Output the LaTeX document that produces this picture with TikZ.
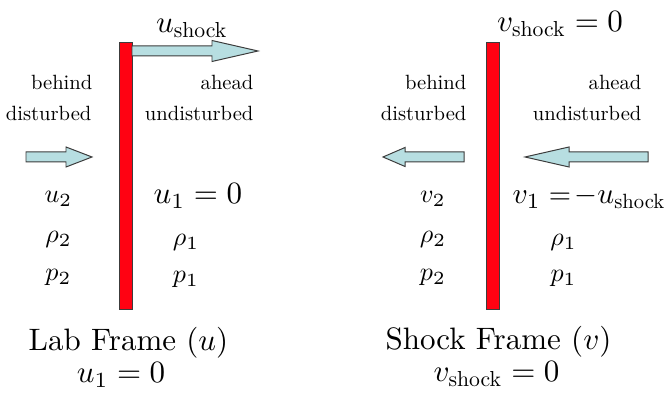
\documentclass[tikz,border=0pt]{standalone}
\usepackage{amsmath}
\usepackage{fontspec}
\setmainfont{lmroman10-regular.otf}[ItalicFont=lmroman10-italic.otf,BoldFont=lmroman10-bold.otf]
\DeclareFontFamily{OML}{cmmx}{\skewchar\font127 }
\DeclareFontShape{OML}{cmmx}{m}{it}{<->cmmi10}{}
\DeclareFontFamily{OMS}{cmsyx}{\skewchar\font48 }
\DeclareFontShape{OMS}{cmsyx}{m}{n}{<->cmsy10}{}
\DeclareFontFamily{OT1}{cmrx}{\hyphenchar\font45 }
\DeclareFontShape{OT1}{cmrx}{m}{n}{<->cmr10}{}
\DeclareSymbolFont{operators}{OT1}{cmrx}{m}{n}
\DeclareSymbolFont{letters}{OML}{cmmx}{m}{it}
\DeclareSymbolFont{symbols}{OMS}{cmsyx}{m}{n}
\definecolor{shockred}{RGB}{255,2,18}
\definecolor{flowfill}{RGB}{183,222,225}
\definecolor{edgegray}{RGB}{60,60,60}
\newcommand\flowarrow[6]{%
  \draw[flowarrow] (#1,{#4-#5}) -- (#2,{#4-#5}) -- (#2,{#4-#6}) -- (#3,#4)
    -- (#2,{#4+#6}) -- (#2,{#4+#5}) -- (#1,{#4+#5}) -- cycle;}
\tikzset{
  shockbar/.style={draw=edgegray, line width=0.32pt, fill=shockred, inner sep=0pt,
    minimum width={13*0.3226pt}, minimum height={266*0.3226pt}},
  flowarrow/.style={draw=edgegray, line width=0.32pt, fill=flowfill, line join=miter},
  mainlbl/.style={inner sep=0pt, font=\fontsize{10}{12}\selectfont},
  widelbl/.style={inner sep=0pt, font=\fontsize{9.5}{12}\selectfont},
  varlbl/.style={inner sep=0pt, font=\fontsize{8.4}{10}\selectfont},
  smalllbl/.style={inner sep=0pt, font=\fontsize{6.65}{8}\selectfont},
}
\begin{document}
\begin{tikzpicture}[x=0.3226pt,y=-0.3226pt]
\useasboundingbox (0,0) rectangle (667,396);
% ---------- Lab frame ----------
\node[shockbar] (barL) at (125.5,176) {};
\flowarrow{132}{212}{258}{51}{5}{10.5}
\flowarrow{26}{66}{92}{157}{5}{10}
\node[mainlbl, anchor=base] (ushock) at (192,33) {$u_{\text{shock}}$};
\node[smalllbl, anchor=base east] (behindL) at (93,90) {behind};
\node[smalllbl, anchor=base east] (disturbedL) at (92,120.5) {disturbed};
\node[smalllbl, anchor=base east] (aheadL) at (254,90) {ahead};
\node[smalllbl, anchor=base east] (undisturbedL) at (254,120.5) {undisturbed};
\node[varlbl, anchor=base] (uL2) at (58.5,203) {$u_2$};
\node[varlbl, anchor=base] (rhoL2) at (58.5,243) {$\rho_2$};
\node[varlbl, anchor=base] (pL2) at (58.5,281) {$p_2$};
\node[mainlbl, anchor=base west] (uL1) at (153,204) {$u_1 = 0$};
\node[varlbl, anchor=base] (rhoL1) at (186,246) {$\rho_1$};
\node[varlbl, anchor=base] (pL1) at (186,283) {$p_1$};
\node[mainlbl, anchor=base] (labtitle) at (128.5,351) {Lab Frame $(u)$};
\node[mainlbl, anchor=base] (labcond) at (121,383) {$u_1 = 0$};
% ---------- Shock frame ----------
\node[shockbar] (barR) at (492.5,176) {};
\flowarrow{464}{405}{383}{157}{5}{9.5}
\flowarrow{648}{569}{525}{157}{5}{10}
\node[mainlbl, anchor=base] (vshock) at (560,32) {$v_{\text{shock}} = 0$};
\node[smalllbl, anchor=base east] (behindR) at (467,90) {behind};
\node[smalllbl, anchor=base east] (disturbedR) at (467,120.5) {disturbed};
\node[smalllbl, anchor=base east] (aheadR) at (642,90) {ahead};
\node[smalllbl, anchor=base east] (undisturbedR) at (642,120.5) {undisturbed};
\node[varlbl, anchor=base] (vR2) at (433,203) {$v_2$};
\node[varlbl, anchor=base] (rhoR2) at (433,243) {$\rho_2$};
\node[varlbl, anchor=base] (pR2) at (433,281) {$p_2$};
\node[widelbl, anchor=base west] (vR1) at (512,204) {$v_1 = \!-u_{\text{shock}}$};
\node[varlbl, anchor=base] (rhoR1) at (563.5,246) {$\rho_1$};
\node[varlbl, anchor=base] (pR1) at (563.5,282) {$p_1$};
\node[mainlbl, anchor=base] (shocktitle) at (498.5,350) {Shock Frame $(v)$};
\node[mainlbl, anchor=base] (shockcond) at (496.5,382) {$v_{\text{shock}} = 0$};
\end{tikzpicture}
\end{document}
